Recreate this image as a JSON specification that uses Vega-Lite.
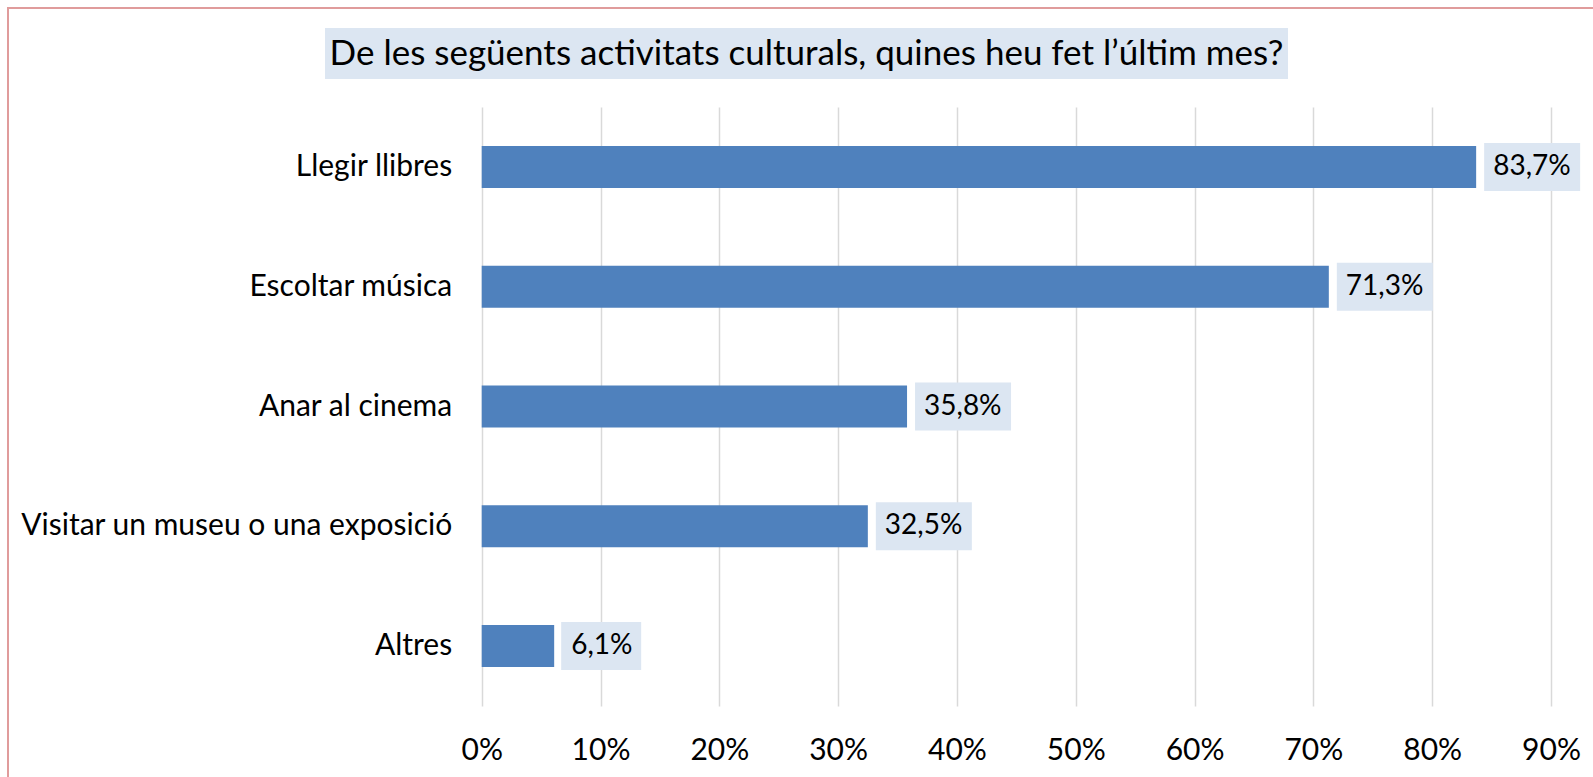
{
  "$schema": "https://vega.github.io/schema/vega-lite/v6.json",
  "autosize": {"type": "none"},
  "padding": {"left": 8, "top": 8, "right": 0, "bottom": 0},
  "width": 1600,
  "height": 800,
  "background": "white",
  "view": {"stroke": "#E09C9C", "strokeWidth": 2, "fill": null},
  "config": {
    "locale": {"number": {"decimal": ",", "thousands": ".", "grouping": [3], "currency": ["", " €"]}},
    "font": "Lato"
  },
  "layer": [
    {
      "data": {"values": [{"titol": "De les següents activitats culturals, quines heu fet l’últim mes?"}]},
      "encoding": {
        "y": {"datum": "titol", "type": "nominal", "scale": {"range": [20, 71], "paddingInner": 0, "paddingOuter": 0}, "axis": null}
      },
      "layer": [
        {
          "mark": {"type": "bar", "color": "#DCE6F2"},
          "encoding": {
            "x": {"datum": 0, "type": "quantitative", "scale": {"domain": [0, 1], "range": [317, 1280], "nice": false, "zero": false}, "axis": null},
            "x2": {"datum": 1}
          }
        },
        {
          "mark": {"type": "text", "font": "Lato", "fontSize": 35, "color": "#000000", "align": "center", "baseline": "middle"},
          "encoding": {
            "x": {"datum": 0.5, "type": "quantitative"},
            "text": {"field": "titol"}
          }
        }
      ]
    },
    {
      "data": {"values": [
        {"activitat": "Llegir llibres", "pct": 0.837},
        {"activitat": "Escoltar música", "pct": 0.713},
        {"activitat": "Anar al cinema", "pct": 0.358},
        {"activitat": "Visitar un museu o una exposició", "pct": 0.325},
        {"activitat": "Altres", "pct": 0.061}
      ]},
      "encoding": {
        "y": {
          "field": "activitat", "type": "nominal", "sort": null,
          "scale": {"range": [99, 698], "paddingInner": 0, "paddingOuter": 0},
          "axis": {"title": null, "orient": "left", "offset": -473.7, "domain": false, "ticks": false, "grid": false, "labelFontSize": 30, "labelFont": "Lato", "labelColor": "#000000", "labelPadding": 30, "labelLimit": 1000}
        }
      },
      "layer": [
        {
          "mark": {"type": "bar", "color": "#4F81BD", "size": 42},
          "encoding": {
            "x": {
              "field": "pct", "type": "quantitative",
              "scale": {"domain": [0, 0.9], "range": [473.7, 1543], "nice": false},
              "axis": {"title": null, "orient": "bottom", "offset": -102, "format": ".0%", "values": [0, 0.1, 0.2, 0.3, 0.4, 0.5, 0.6, 0.7, 0.8, 0.9], "domain": false, "ticks": false, "grid": false, "labelFlush": false, "labelOverlap": false, "labelFontSize": 30, "labelFont": "Lato", "labelColor": "#000000", "labelPadding": 29}
            }
          }
        },
        {
          "transform": [{"filter": "datum.pct >= 0.1"}],
          "mark": {"type": "bar", "color": "#DCE6F2", "size": 48, "xOffset": 8, "x2Offset": 104},
          "encoding": {
            "x": {
              "field": "pct", "type": "quantitative",
              "axis": {"title": null, "orient": "top", "offset": -698, "values": [0, 0.1, 0.2, 0.3, 0.4, 0.5, 0.6, 0.7, 0.8, 0.9], "domain": false, "labels": false, "grid": false, "ticks": true, "tickColor": "#D9D9D9", "tickWidth": 1.5, "tickSize": 599}
            },
            "x2": {"field": "pct"}
          }
        },
        {
          "transform": [{"filter": "datum.pct < 0.1"}],
          "mark": {"type": "bar", "color": "#DCE6F2", "size": 48, "xOffset": 7, "x2Offset": 87},
          "encoding": {
            "x": {"field": "pct", "type": "quantitative", "axis": null},
            "x2": {"field": "pct"}
          }
        },
        {
          "mark": {"type": "text", "align": "left", "baseline": "middle", "dx": 17, "fontSize": 28, "font": "Lato", "color": "#000000"},
          "encoding": {
            "x": {"field": "pct", "type": "quantitative", "axis": null},
            "text": {"field": "pct", "type": "quantitative", "format": ".1%"}
          }
        }
      ],
      "resolve": {"axis": {"x": "independent"}}
    }
  ],
  "resolve": {"scale": {"x": "independent", "y": "independent"}, "axis": {"x": "independent", "y": "independent"}}
}
